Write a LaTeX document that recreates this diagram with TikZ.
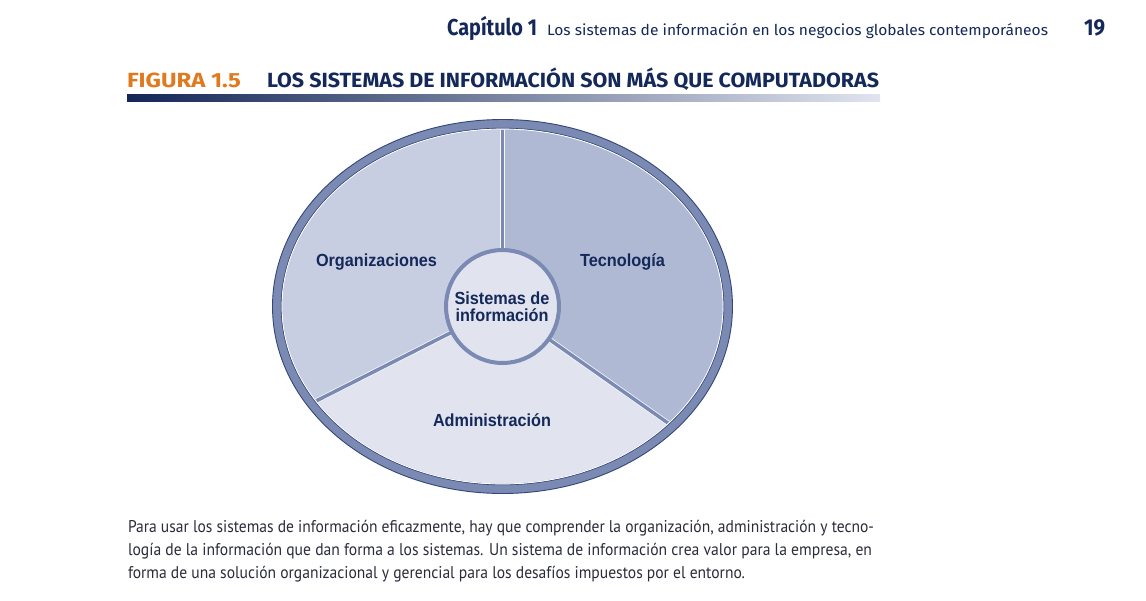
\documentclass[tikz,border=0pt]{standalone}
\usepackage{fontspec}
\usepackage{graphicx}
\setmainfont{Liberation Sans}
\newfontfamily\hdfont{Fira Sans}
\newfontfamily\capfont{PT Sans}
\definecolor{navy}{HTML}{14285A}
\definecolor{orangef}{HTML}{E07A1F}
\definecolor{bandc}{HTML}{7A8AB2}
\definecolor{darkc}{HTML}{34467A}
\definecolor{orgfill}{HTML}{C8CEE2}
\definecolor{techfill}{HTML}{B0B9D4}
\definecolor{admfill}{HTML}{E1E4EF}
\definecolor{captc}{HTML}{2A2C3A}
\newsavebox\fitbox
\newcommand\fitto[2]{\sbox\fitbox{#2}\pgfmathsetmacro\fitscale{#1/\wd\fitbox}\scalebox{\fitscale}[1]{\usebox\fitbox}}
\tikzset{
  txt/.style={anchor=base west, inner sep=0pt, outer sep=0pt},
  lbl/.style={anchor=base, inner sep=0pt, outer sep=0pt, text=navy},
  divider/.style={line width=3.4pt, draw=bandc},
  dividerhalo/.style={line width=5pt, draw=white!92!bandc},
}
\begin{document}
\begin{tikzpicture}[x=1pt,y=-1pt]
\useasboundingbox (0,0) rectangle (1146,600);
\fill[white] (0,0) rectangle (1146,600);

% header
\node[txt, text=navy] (hcap) at (447,35) {\fitto{90}{\hdfont\bfseries\fontsize{23}{26}\selectfont Capítulo 1}};
\node[txt, text=navy] (hrun) at (547,35) {\fitto{501}{\hdfont\fontsize{15}{17}\selectfont Los sistemas de información en los negocios globales contemporáneos}};
\node[txt, text=navy] (hpage) at (1084,35) {\fitto{21}{\hdfont\bfseries\fontsize{23}{26}\selectfont 19}};

% title
\node[txt, text=orangef] (tfig) at (127,87) {\fitto{114}{\hdfont\bfseries\fontsize{20.5}{24}\selectfont FIGURA 1.5}};
\node[txt, text=navy] (ttitle) at (267,87) {\fitto{612}{\hdfont\bfseries\fontsize{20.5}{24}\selectfont LOS SISTEMAS DE INFORMACIÓN SON MÁS QUE COMPUTADORAS}};
\shade[left color=navy!95!black, right color=admfill] (127,94) rectangle (880,101);

% diagram
\coordinate (C) at (502.5,306.5);
\fill[bandc] (C) ellipse [x radius=230pt, y radius=187pt];
\draw[darkc, line width=0.9pt] (C) ellipse [x radius=230pt, y radius=187pt];
\begin{scope}
  \clip (C) ellipse [x radius=220pt, y radius=177pt];
  \coordinate (eu) at (502.5,100);
  \coordinate (el) at (200,459.8);
  \coordinate (er) at (800,516);
  \fill[orgfill] (C) -- (eu) -- (200,100) -- (el) -- cycle;
  \fill[techfill] (C) -- (eu) -- (800,100) -- (er) -- cycle;
  \fill[admfill] (C) -- (el) -- (200,560) -- (800,560) -- (er) -- cycle;
  \draw[dividerhalo] (C) -- (eu);
  \draw[dividerhalo] (C) -- (el);
  \draw[dividerhalo] (C) -- (er);
  \draw[divider] (C) -- (eu);
  \draw[divider] (C) -- (el);
  \draw[divider] (C) -- (er);
\end{scope}
\draw[white, line width=1.2pt] (C) ellipse [x radius=220.6pt, y radius=177.6pt];
\draw[darkc, line width=0.6pt] (C) ellipse [x radius=221.4pt, y radius=178.4pt];

\node[circle, minimum size=113pt, inner sep=0pt, draw=bandc, line width=4pt, fill=admfill] (core) at (C) {};
\node[lbl] (sis1) at (502,304.5) {\fitto{95}{\bfseries\fontsize{17.5}{20}\selectfont Sistemas de}};
\node[lbl] (sis2) at (502,321.5) {\fitto{93}{\bfseries\fontsize{17.5}{20}\selectfont información}};
\node[lbl] (org) at (376.5,266) {\fitto{121}{\bfseries\fontsize{17.5}{20}\selectfont Organizaciones}};
\node[lbl] (tec) at (622.5,266) {\fitto{85}{\bfseries\fontsize{17.5}{20}\selectfont Tecnología}};
\node[lbl] (adm) at (492,426.5) {\fitto{118}{\bfseries\fontsize{17.5}{20}\selectfont Administración}};

% caption
\node[txt, text=captc] (cap1) at (128,532) {\fitto{746}{\capfont\fontsize{17}{19}\selectfont Para usar los sistemas de información eficazmente, hay que comprender la organización, administración y tecno-}};
\node[txt, text=captc] (cap2) at (128,555) {\fitto{744}{\capfont\fontsize{17}{19}\selectfont logía de la información que dan forma a los sistemas. Un sistema de información crea valor para la empresa, en}};
\node[txt, text=captc] (cap3) at (128,578) {\fitto{617}{\capfont\fontsize{17}{19}\selectfont forma de una solución organizacional y gerencial para los desafíos impuestos por el entorno.}};
\end{tikzpicture}
\end{document}
